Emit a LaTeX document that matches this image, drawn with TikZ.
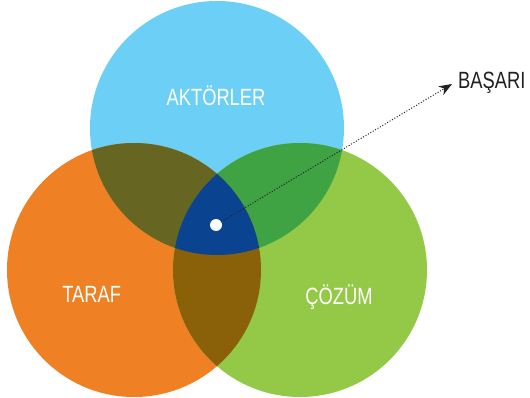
\documentclass[tikz,border=0pt]{standalone}
\usepackage{fontspec}
\setmainfont{Liberation Sans}[FakeStretch=0.78]
\usetikzlibrary{arrows.meta}
\definecolor{cblue}{HTML}{6CCFF6}
\definecolor{corange}{HTML}{F08024}
\definecolor{cgreen}{HTML}{93C947}
\definecolor{cbo}{HTML}{666622}
\definecolor{cbg}{HTML}{3FA243}
\definecolor{cog}{HTML}{8A6109}
\definecolor{call}{HTML}{0A4490}
\definecolor{ctext}{HTML}{231F20}
\tikzset{
  lbl/.style={text=white, font=\fontsize{23.5}{28}\selectfont, inner sep=0pt},
  outlbl/.style={text=ctext, font=\fontsize{23.5}{28}\selectfont, inner sep=0pt, anchor=west},
  dotnode/.style={circle, fill=white, minimum size=12pt, inner sep=0pt},
  pointer/.style={ctext, line width=1pt, dash pattern=on 1pt off 1.8pt, -{Stealth[length=13pt,width=10pt,inset=4pt]}}
}
\begin{document}
\begin{tikzpicture}[x=1pt,y=-1pt]
\useasboundingbox (0,0) rectangle (530,398);
\def\rr{127}
\coordinate (T) at (217,128);
\coordinate (L) at (134,270);
\coordinate (R) at (300,270);
\fill[cblue] (T) circle (\rr);
\fill[corange] (L) circle (\rr);
\fill[cgreen] (R) circle (\rr);
\begin{scope}
  \clip (T) circle (\rr);
  \fill[cbo] (L) circle (\rr);
  \fill[cbg] (R) circle (\rr);
\end{scope}
\begin{scope}
  \clip (L) circle (\rr);
  \fill[cog] (R) circle (\rr);
\end{scope}
\begin{scope}
  \clip (T) circle (\rr);
  \clip (L) circle (\rr);
  \fill[call] (R) circle (\rr);
\end{scope}
\node[lbl] (akt) at (216,95.5) {AKTÖRLER};
\node[lbl] (taraf) at (91.7,294.5) {TARAF};
\node[lbl] (cozum) at (339,297) {ÇÖZÜM};
\node[dotnode] (dot) at (216,225) {};
\node[outlbl] (basari) at (458,82.5) {BAŞARI};
\coordinate (tip) at (452,84);
\draw[pointer] (dot) -- (tip);
\end{tikzpicture}
\end{document}
